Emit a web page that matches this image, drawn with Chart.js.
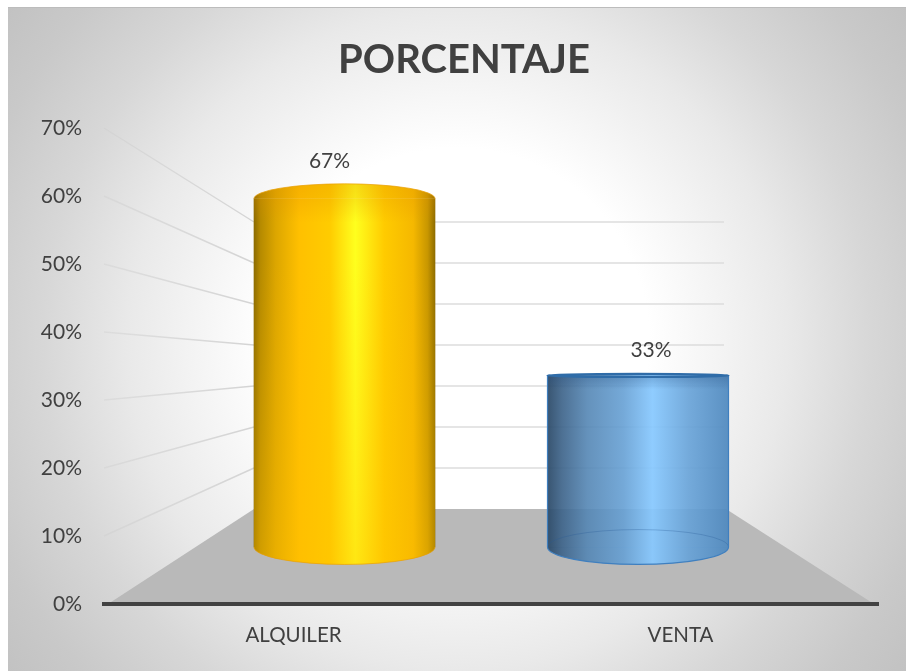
<!DOCTYPE html>
<html>
<head>
<meta charset="utf-8">
<style>html,body{margin:0;padding:0;background:#fff;overflow:hidden}canvas{display:block}</style>
<script src="https://cdn.jsdelivr.net/npm/chart.js@4/dist/chart.umd.min.js"></script>
</head>
<body>
<canvas id="c" width="906" height="671"></canvas>
<script>
const chartTitle = 'PORCENTAJE';
const categories = ['ALQUILER', 'VENTA'];
const percentValues = [67, 33];
const percentTicks = [0, 10, 20, 30, 40, 50, 60, 70];

const FONT = 'Lato, "Open Sans", sans-serif';
const TEXT = '#404040';
const BAR_W = 181;
const HORIZON_Y = 375;
const TITLE_SHIFT = 25;
const labelShift = [[-15, -37.5], [13, -25]];

const goldStops = [[0,'#8c6b00'],[0.035,'#b58a00'],[0.12,'#dca600'],[0.25,'#ffc000'],[0.42,'#ffcc00'],[0.56,'#ffff1e'],[0.72,'#ffcb00'],[0.88,'#f5b800'],[0.96,'#c79600'],[1,'#8f6d00']];
const blueStops = [[0,'rgba(44,74,104,.94)'],[0.08,'rgba(62,100,138,.92)'],[0.22,'rgba(84,134,180,.9)'],[0.42,'rgba(102,160,212,.9)'],[0.58,'rgba(134,200,255,.92)'],[0.78,'rgba(102,162,216,.9)'],[1,'rgba(78,136,190,.92)']];

function makeGradient(chart, i) {
  const cx = chart.scales.x1.getPixelForValue(i);
  if (!Number.isFinite(cx)) return i === 0 ? '#ffc000' : '#6fa9dc';
  const g = chart.ctx.createLinearGradient(cx - BAR_W / 2, 0, cx + BAR_W / 2, 0);
  (i === 0 ? goldStops : blueStops).forEach(s => g.addColorStop(s[0], s[1]));
  return g;
}
const capRy = y => Math.max(Math.abs(y - HORIZON_Y) * 0.084, 1.6);

const scene = {
  id: 'scene',
  afterLayout(chart) {
    chart.titleBlock.left += TITLE_SHIFT;
    chart.titleBlock.right += TITLE_SHIFT;
  },
  beforeDraw(chart) {
    const { ctx, width, height } = chart;
    ctx.save();
    ctx.fillStyle = '#ffffff';
    ctx.fillRect(0, 0, width, height);
    const g = ctx.createRadialGradient(457, 340, 0, 457, 340, 600);
    [[0,'#ffffff'],[0.32,'#ffffff'],[0.55,'#e9e9e9'],[0.69,'#d7d7d7'],[0.83,'#c9c9c9'],[1,'#bdbdbd']].forEach(s => g.addColorStop(s[0], s[1]));
    ctx.fillStyle = g;
    ctx.fillRect(8, 7, width - 8, height - 7);
    ctx.fillStyle = '#bcbcbc';
    ctx.fillRect(8, 7, width - 8, 1);
    ctx.restore();
  },
  beforeDatasetsDraw(chart) {
    const { ctx, chartArea: a, scales } = chart;
    const backL = 254, backR = 726;
    const y0 = scales.y, yb = scales.yBack;
    ctx.save();
    // floor
    ctx.fillStyle = '#b9b9b9';
    ctx.beginPath();
    ctx.moveTo(a.left + 4, y0.getPixelForValue(0));
    ctx.lineTo(backL, yb.getPixelForValue(0));
    ctx.lineTo(backR, yb.getPixelForValue(0));
    ctx.lineTo(a.right - 4, y0.getPixelForValue(0));
    ctx.closePath();
    ctx.fill();
    // wall grid lines
    percentTicks.slice(1).forEach(t => {
      const fy = y0.getPixelForValue(t), by = yb.getPixelForValue(t);
      const lg = ctx.createLinearGradient(a.left, 0, backL, 0);
      lg.addColorStop(0, 'rgba(200,200,200,.3)');
      lg.addColorStop(1, 'rgba(212,212,212,1)');
      ctx.strokeStyle = lg;
      ctx.lineWidth = 1.4;
      ctx.beginPath();
      ctx.moveTo(a.left, fy);
      ctx.lineTo(backL, by);
      ctx.stroke();
      ctx.strokeStyle = '#dcdcdc';
      ctx.beginPath();
      ctx.moveTo(backL, by);
      ctx.lineTo(backR - 2, by);
      ctx.stroke();
    });
    // cylinder parts lying behind the flat bar shape
    chart.getDatasetMeta(0).data.forEach((bar, i) => {
      const rx = BAR_W / 2;
      const grad = makeGradient(chart, i);
      ctx.fillStyle = grad;
      ctx.beginPath();
      ctx.ellipse(bar.x, bar.base, rx, capRy(bar.base) + 3, 0, 0, Math.PI);
      ctx.closePath();
      ctx.fill();
      ctx.beginPath();
      ctx.ellipse(bar.x, bar.y, rx, capRy(bar.y), 0, Math.PI, 2 * Math.PI);
      ctx.closePath();
      ctx.fill();
    });
    ctx.restore();
  },
  afterDatasetsDraw(chart) {
    const { ctx } = chart;
    ctx.save();
    chart.getDatasetMeta(0).data.forEach((bar, i) => {
      const rx = BAR_W / 2, rb = capRy(bar.base) + 3, rt = capRy(bar.y);
      if (i === 0) {
        // slightly darkened top of the gold cylinder
        ctx.save();
        ctx.beginPath();
        ctx.ellipse(bar.x, bar.y, rx, rt, 0, Math.PI, 2 * Math.PI);
        ctx.lineTo(bar.x + rx, bar.y + 24);
        ctx.lineTo(bar.x - rx, bar.y + 24);
        ctx.closePath();
        ctx.clip();
        const sh = ctx.createLinearGradient(0, bar.y - rt, 0, bar.y + 24);
        sh.addColorStop(0, 'rgba(225,140,0,.3)');
        sh.addColorStop(0.45, 'rgba(225,140,0,.2)');
        sh.addColorStop(1, 'rgba(225,140,0,0)');
        ctx.fillStyle = sh;
        ctx.fillRect(bar.x - rx, bar.y - rt, BAR_W, rt + 24);
        ctx.restore();
        // softer yellow near the foot
        const low = ctx.createLinearGradient(0, bar.y + 60, 0, bar.base + rb);
        low.addColorStop(0, 'rgba(255,190,0,0)');
        low.addColorStop(1, 'rgba(255,190,0,.38)');
        ctx.fillStyle = low;
        ctx.beginPath();
        ctx.rect(bar.x - rx, bar.y + 60, BAR_W, bar.base - bar.y - 60);
        ctx.fill();
        ctx.beginPath();
        ctx.ellipse(bar.x, bar.base, rx, rb, 0, 0, Math.PI);
        ctx.fill();
        ctx.strokeStyle = 'rgba(232,160,10,.7)';
        ctx.lineWidth = 1;
        ctx.beginPath();
        ctx.ellipse(bar.x, bar.y, rx, rt, 0, Math.PI, 2 * Math.PI);
        ctx.stroke();
        ctx.beginPath();
        ctx.ellipse(bar.x, bar.base, rx, rb, 0, 0, Math.PI);
        ctx.stroke();
      } else {
        // top band, base rim and outline of the glassy blue cylinder
        const sh = ctx.createLinearGradient(0, bar.y, 0, bar.y + 14);
        sh.addColorStop(0, 'rgba(30,70,120,.28)');
        sh.addColorStop(1, 'rgba(30,70,120,0)');
        ctx.fillStyle = sh;
        ctx.fillRect(bar.x - rx, bar.y, BAR_W, 14);
        ctx.strokeStyle = 'rgba(40,90,150,.3)';
        ctx.lineWidth = 1;
        ctx.beginPath();
        ctx.ellipse(bar.x, bar.base, rx, rb, 0, Math.PI, 2 * Math.PI);
        ctx.stroke();
        ctx.strokeStyle = '#3f7fbf';
        ctx.lineWidth = 1.2;
        ctx.beginPath();
        ctx.moveTo(bar.x - rx, bar.base);
        ctx.lineTo(bar.x - rx, bar.y);
        ctx.moveTo(bar.x + rx, bar.y);
        ctx.lineTo(bar.x + rx, bar.base);
        ctx.stroke();
        ctx.beginPath();
        ctx.ellipse(bar.x, bar.base, rx, rb, 0, 0, Math.PI);
        ctx.stroke();
        ctx.strokeStyle = '#2f6ca8';
        ctx.lineWidth = 2.2;
        ctx.beginPath();
        ctx.ellipse(bar.x, bar.y, rx, rt, 0, 0, 2 * Math.PI);
        ctx.stroke();
      }
      // value label
      ctx.fillStyle = TEXT;
      ctx.font = '21px ' + FONT;
      ctx.textAlign = 'center';
      ctx.textBaseline = 'middle';
      ctx.fillText(percentValues[i] + '%', bar.x + labelShift[i][0], bar.y + labelShift[i][1]);
    });
    ctx.restore();
  }
};

new Chart(document.getElementById('c'), {
  type: 'bar',
  data: {
    labels: categories,
    datasets: [{
      label: 'PORCENTAJE',
      xAxisID: 'x1',
      yAxisID: 'y1',
      data: percentValues.map((v, i) => ({ x: i, y: v })),
      barThickness: BAR_W,
      borderWidth: 0,
      backgroundColor: c => (c.dataIndex === undefined ? '#ffc000' : makeGradient(c.chart, c.dataIndex))
    }]
  },
  plugins: [scene],
  options: {
    responsive: false,
    animation: false,
    events: [],
    layout: { padding: { left: 0, right: 28, top: 0, bottom: 0 } },
    plugins: {
      legend: { display: false },
      tooltip: { enabled: false },
      title: {
        display: true,
        text: chartTitle,
        color: TEXT,
        font: { family: FONT, size: 40, weight: 'bold', lineHeight: 1.2 },
        padding: { top: 36, bottom: 44 }
      }
    },
    scales: {
      x: {
        type: 'category',
        position: 'bottom',
        grid: { display: false, drawTicks: false },
        border: { display: true, color: '#424242', width: 4, z: 2 },
        ticks: { color: TEXT, font: { family: FONT, size: 20.5 }, padding: 19, maxRotation: 0, labelOffset: -4 },
        afterFit(s) { s.height = 67; }
      },
      y: {
        type: 'linear',
        min: 0,
        max: 70,
        position: 'left',
        grid: { display: false, drawTicks: false },
        border: { display: false },
        ticks: { stepSize: 10, color: TEXT, font: { family: FONT, size: 21 }, padding: 22, callback: v => v + '%' },
        afterFit(s) { s.width = 104; }
      },
      x1: { type: 'linear', display: false, min: -0.8194, max: 1.8177, offset: false, grid: { display: false } },
      y1: { type: 'linear', display: false, min: -10.96, max: 80.58, position: 'left', grid: { display: false } },
      yBack: { type: 'linear', display: false, min: -23.17, max: 92.93, position: 'left', grid: { display: false } }
    }
  }
});
</script>
</body>
</html>
